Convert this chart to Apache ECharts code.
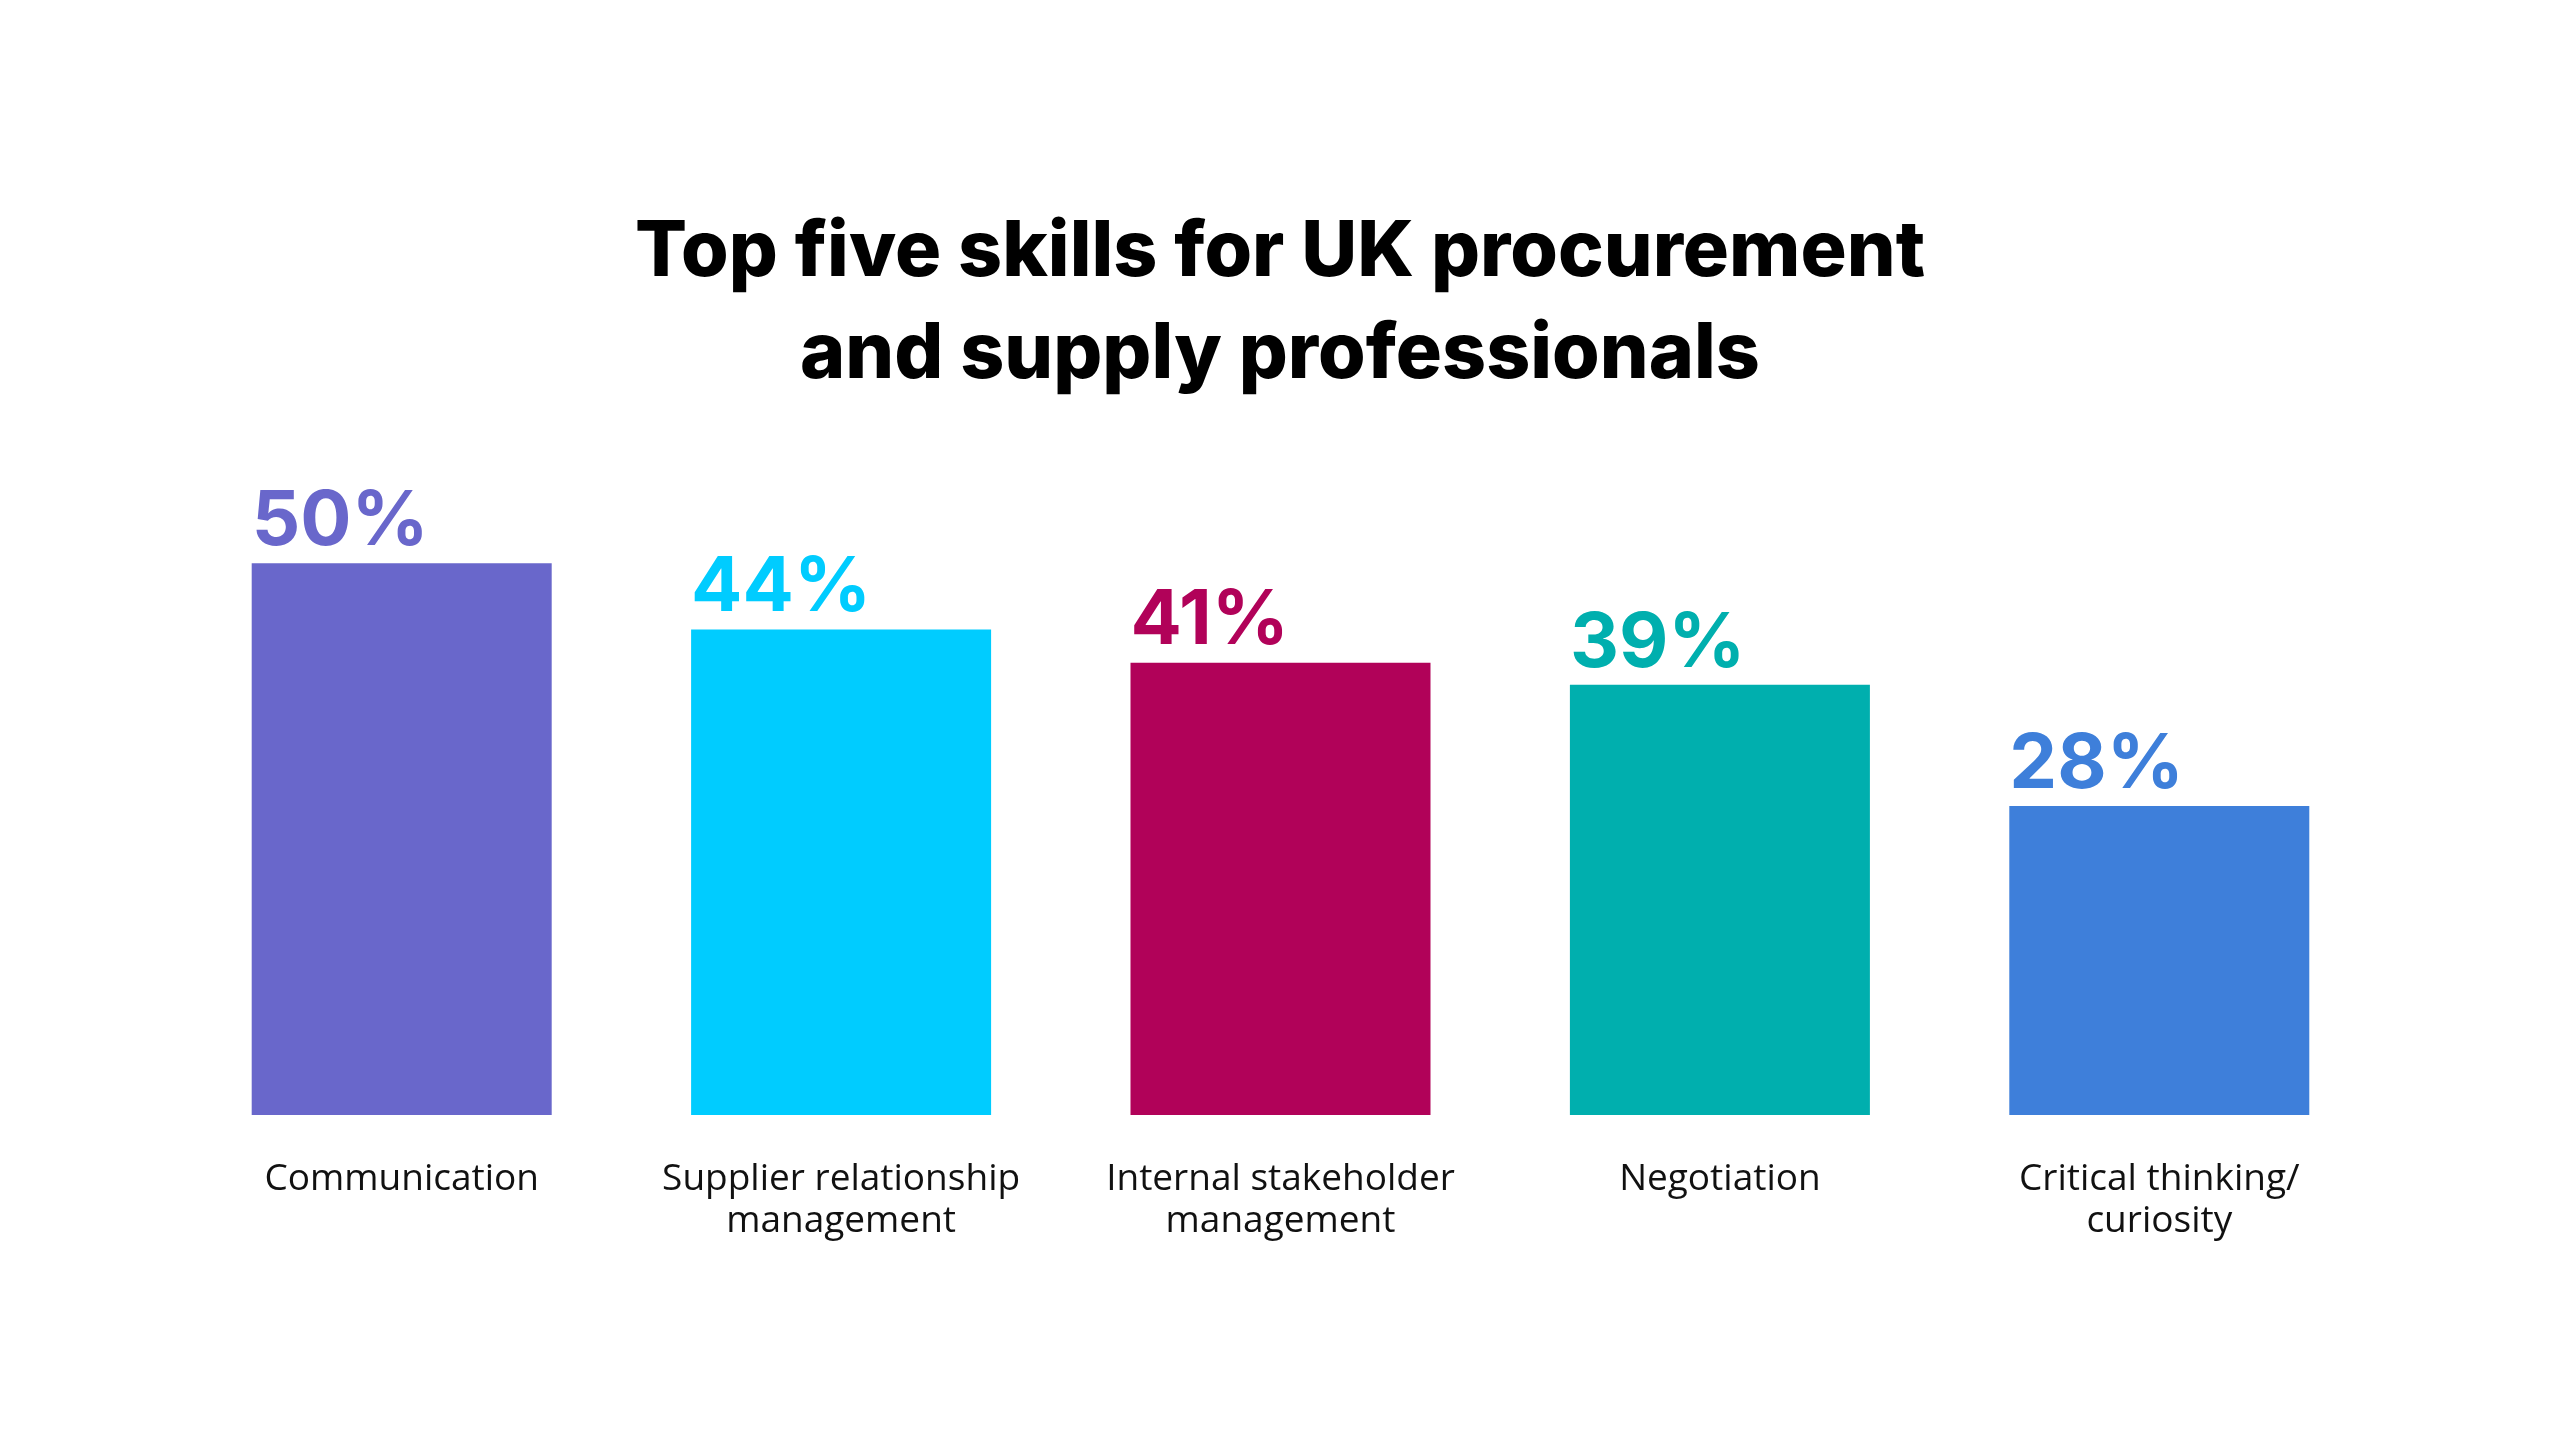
<!DOCTYPE html>
<html>
<head>
<meta charset="utf-8">
<script src="https://cdn.jsdelivr.net/npm/echarts@6/dist/echarts.min.js"></script>
<style>
html,body{margin:0;padding:0;background:#fff;}
#chart{width:2560px;height:1440px;}
</style>
</head>
<body>
<div id="chart"></div>
<script>
const titleText = 'Top five skills for UK procurement\nand supply professionals';
const categories = [
  'Communication',
  'Supplier relationship\nmanagement',
  'Internal stakeholder\nmanagement',
  'Negotiation',
  'Critical thinking/\ncuriosity'
];
const values = [50, 44, 41, 39, 28];
const palette = ['#6967CB', '#00CCFF', '#B10259', '#00AFAE', '#3E7FDA'];

const chart = echarts.init(document.getElementById('chart'));
chart.setOption({
  backgroundColor: '#ffffff',
  animation: false,
  title: {
    text: titleText,
    left: 'center',
    top: 202,
    padding: 0,
    textStyle: {
      fontFamily: 'Inter',
      fontWeight: 800,
      fontSize: 77,
      lineHeight: 102,
      color: '#000000'
    }
  },
  grid: { left: 182, right: 181, top: 453, bottom: 325 },
  xAxis: {
    type: 'category',
    data: categories,
    axisLine: { show: false },
    axisTick: { show: false },
    axisLabel: {
      interval: 0,
      margin: 43,
      fontFamily: 'Open Sans',
      fontSize: 37,
      lineHeight: 42,
      color: '#111111'
    }
  },
  yAxis: {
    type: 'value',
    min: 0,
    max: 60,
    show: false,
    splitLine: { show: false }
  },
  series: [{
    type: 'bar',
    barWidth: 300,
    data: values.map((v, i) => ({ value: v, itemStyle: { color: palette[i] }, label: { color: palette[i] } })),
    label: {
      show: true,
      position: [0, -3],
      align: 'left',
      verticalAlign: 'bottom',
      formatter: p => p.value + '%',
      fontFamily: 'Inter',
      fontWeight: 700,
      fontSize: 76,
      lineHeight: 76
    }
  }]
});
</script>
</body>
</html>
